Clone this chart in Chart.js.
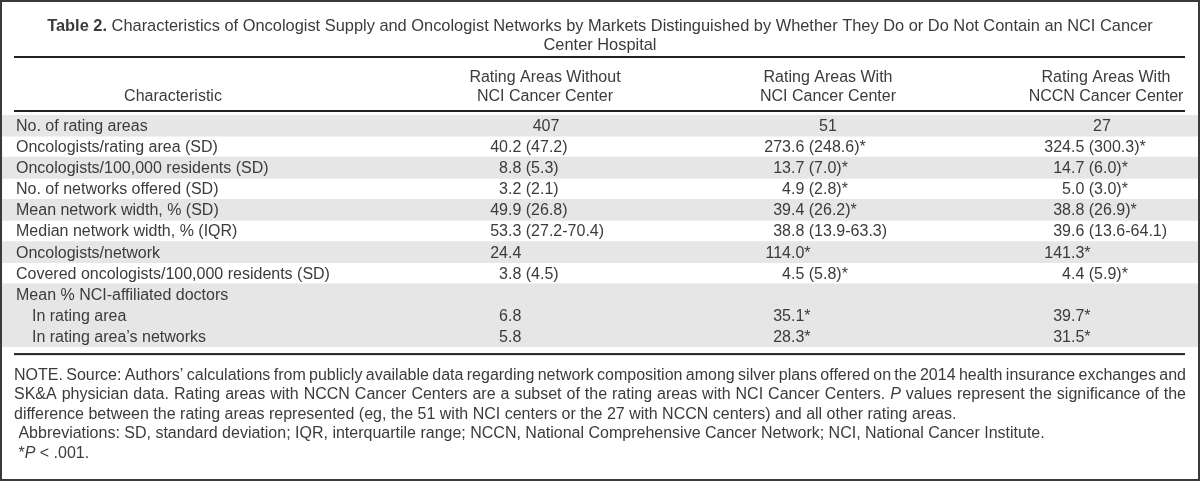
<!DOCTYPE html>
<html>
<head>
<meta charset="utf-8">
<script src="https://cdn.jsdelivr.net/npm/chart.js@4.4.1/dist/chart.umd.min.js"></script>
<style>
  html, body { margin: 0; padding: 0; background: #fff; }
  #wrap { width: 1200px; height: 481px; position: relative; }
</style>
</head>
<body>
<div id="wrap"><canvas id="table-chart"></canvas></div>
<script>
// Table content
const titleBold = "Table 2.";
const titleLines = [
  " Characteristics of Oncologist Supply and Oncologist Networks by Markets Distinguished by Whether They Do or Do Not Contain an NCI Cancer",
  "Center Hospital",
];
const colHeaders = [
  ["Characteristic"],
  ["Rating Areas Without", "NCI Cancer Center"],
  ["Rating Areas With", "NCI Cancer Center"],
  ["Rating Areas With", "NCCN Cancer Center"],
];
const rowLabels = [
  "No. of rating areas",
  "Oncologists/rating area (SD)",
  "Oncologists/100,000 residents (SD)",
  "No. of networks offered (SD)",
  "Mean network width, % (SD)",
  "Median network width, % (IQR)",
  "Oncologists/network",
  "Covered oncologists/100,000 residents (SD)",
  "Mean % NCI-affiliated doctors",
  "In rating area",
  "In rating area\u2019s networks",
];
const rowIndent = [0, 0, 0, 0, 0, 0, 0, 0, 0, 1, 1];
const rowShaded = [1, 0, 1, 0, 1, 0, 1, 0, 1, 1, 1];
const withoutNci = ["407", "40.2 (47.2)", "8.8 (5.3)", "3.2 (2.1)", "49.9 (26.8)", "53.3 (27.2-70.4)", "24.4", "3.8 (4.5)", "", "6.8", "5.8"];
const withNci = ["51", "273.6 (248.6)*", "13.7 (7.0)*", "4.9 (2.8)*", "39.4 (26.2)*", "38.8 (13.9-63.3)", "114.0*", "4.5 (5.8)*", "", "35.1*", "28.3*"];
const withNccn = ["27", "324.5 (300.3)*", "14.7 (6.0)*", "5.0 (3.0)*", "38.8 (26.9)*", "39.6 (13.6-64.1)", "141.3*", "4.4 (5.9)*", "", "39.7*", "31.5*"];
// _x_ marks italic text
const noteLines = [
  "NOTE. Source: Authors\u2019 calculations from publicly available data regarding network composition among silver plans offered on the 2014 health insurance exchanges and",
  "SK&A physician data. Rating areas with NCCN Cancer Centers are a subset of the rating areas with NCI Cancer Centers. _P_ values represent the significance of the",
  "difference between the rating areas represented (eg, the 51 with NCI centers or the 27 with NCCN centers) and all other rating areas.",
  " Abbreviations: SD, standard deviation; IQR, interquartile range; NCCN, National Comprehensive Cancer Network; NCI, National Cancer Institute.",
  " *_P_ < .001.",
];
const noteJustify = [1, 1, 0, 0, 0];

// layout (pixels)
const FONT = "'Liberation Sans', Arial, sans-serif";
const FS = 16;
const TITLE_FS = 16.4;
const TEXT = "#3b3b3b";
const RULE = "#222222";
const ruleLeft = 14, ruleRight = 1185;
const tableTop = 115, rowH = 21.1;
const labelX = 16, indentX = 32;
const headerCenters = [173, 545, 828, 1106];
const dotX = [null, 508, 791, 1071];   // decimal alignment per column
const intCenter = [null, 546, 828, 1102];

function runs(str) {
  return str.split("_").map((t, i) => ({ t, it: i % 2 === 1 }));
}
function setFont(ctx, it, bold, size) {
  ctx.font = (it ? "italic " : "") + (bold ? "bold " : "") + (size || FS) + "px " + FONT;
}
function drawRich(ctx, str, x, y, width) {
  const words = [];
  let cur = [];
  runs(str).forEach(r => {
    r.t.split(" ").forEach((p, k) => {
      if (k > 0) { words.push(cur); cur = []; }
      if (p) cur.push({ t: p, it: r.it });
    });
  });
  words.push(cur);
  const ww = words.map(w => w.reduce((s, pc) => { setFont(ctx, pc.it); return s + ctx.measureText(pc.t).width; }, 0));
  setFont(ctx, false);
  const space = ctx.measureText(" ").width;
  const total = ww.reduce((a, b) => a + b, 0);
  const gap = width ? (width - total) / (words.length - 1) : space;
  let cx = x;
  words.forEach((w, i) => {
    w.forEach(pc => {
      setFont(ctx, pc.it);
      ctx.fillText(pc.t, cx, y);
      cx += ctx.measureText(pc.t).width;
    });
    if (i < words.length - 1) cx += gap;
  });
}

const tablePlugin = {
  id: "tableText",
  afterDatasetsDraw(chart) {
    const { ctx, scales } = chart;
    const ys = scales.y;
    ctx.save();
    ctx.fillStyle = TEXT;
    ctx.textBaseline = "middle";

    // title
    setFont(ctx, false, true, TITLE_FS);
    const wb = ctx.measureText(titleBold).width;
    setFont(ctx, false, false, TITLE_FS);
    const w1 = ctx.measureText(titleLines[0]).width;
    let tx = 600 - (wb + w1) / 2;
    ctx.textAlign = "left";
    setFont(ctx, false, true, TITLE_FS);
    ctx.fillText(titleBold, tx, 26);
    setFont(ctx, false, false, TITLE_FS);
    ctx.fillText(titleLines[0], tx + wb, 26);
    ctx.textAlign = "center";
    ctx.fillText(titleLines[1], 600, 45);

    // header
    setFont(ctx, false);
    colHeaders.forEach((lines, c) => {
      const ys0 = lines.length === 1 ? [97] : [78, 97];
      lines.forEach((t, k) => ctx.fillText(t, headerCenters[c], ys0[k]));
    });

    // rules
    ctx.fillStyle = RULE;
    ctx.fillRect(ruleLeft, 56, ruleRight - ruleLeft, 2);
    ctx.fillRect(ruleLeft, 110, ruleRight - ruleLeft, 2);
    const bottomRule = ys.bottom + 6;
    ctx.fillRect(ruleLeft, bottomRule, ruleRight - ruleLeft, 2);
    ctx.fillStyle = TEXT;

    // body
    const cols = [withoutNci, withNci, withNccn];
    rowLabels.forEach((lab, i) => {
      const y = ys.getPixelForValue(i) + 1;
      ctx.textAlign = "left";
      ctx.fillText(lab, rowIndent[i] ? indentX : labelX, y);
      cols.forEach((vals, c) => {
        const v = vals[i];
        if (!v) return;
        const dot = v.indexOf(".");
        if (dot < 0) {
          ctx.textAlign = "center";
          ctx.fillText(v, intCenter[c + 1], y);
        } else {
          ctx.textAlign = "left";
          const lead = ctx.measureText(v.slice(0, dot)).width;
          ctx.fillText(v, dotX[c + 1] - lead, y);
        }
      });
    });

    // notes
    ctx.textAlign = "left";
    noteLines.forEach((t, i) => {
      const y = bottomRule + 22 + i * 19.5;
      drawRich(ctx, t, 14, y, noteJustify[i] ? ruleRight + 1 - 14 : null);
    });

    // frame
    ctx.strokeStyle = "#3a3a3a";
    ctx.lineWidth = 2;
    ctx.strokeRect(1, 1, chart.width - 2, chart.height - 2);
    ctx.restore();
  },
};

const chart = new Chart(document.getElementById("table-chart"), {
  type: "bar",
  data: {
    labels: rowLabels,
    datasets: [{
      label: "row shading",
      data: rowShaded,
      backgroundColor: "#e6e6e6",
      borderWidth: 0,
      barPercentage: 1,
      categoryPercentage: 1,
    }],
  },
  options: {
    indexAxis: "y",
    responsive: true,
    maintainAspectRatio: false,
    animation: false,
    events: [],
    layout: { padding: { left: 2, right: 2, top: tableTop, bottom: 481 - tableTop - rowH * rowLabels.length } },
    scales: {
      x: { type: "linear", min: 0, max: 1, display: false },
      y: { type: "category", display: false, offset: true },
    },
    plugins: { legend: { display: false }, tooltip: { enabled: false } },
  },
  plugins: [tablePlugin],
});
</script>
</body>
</html>
